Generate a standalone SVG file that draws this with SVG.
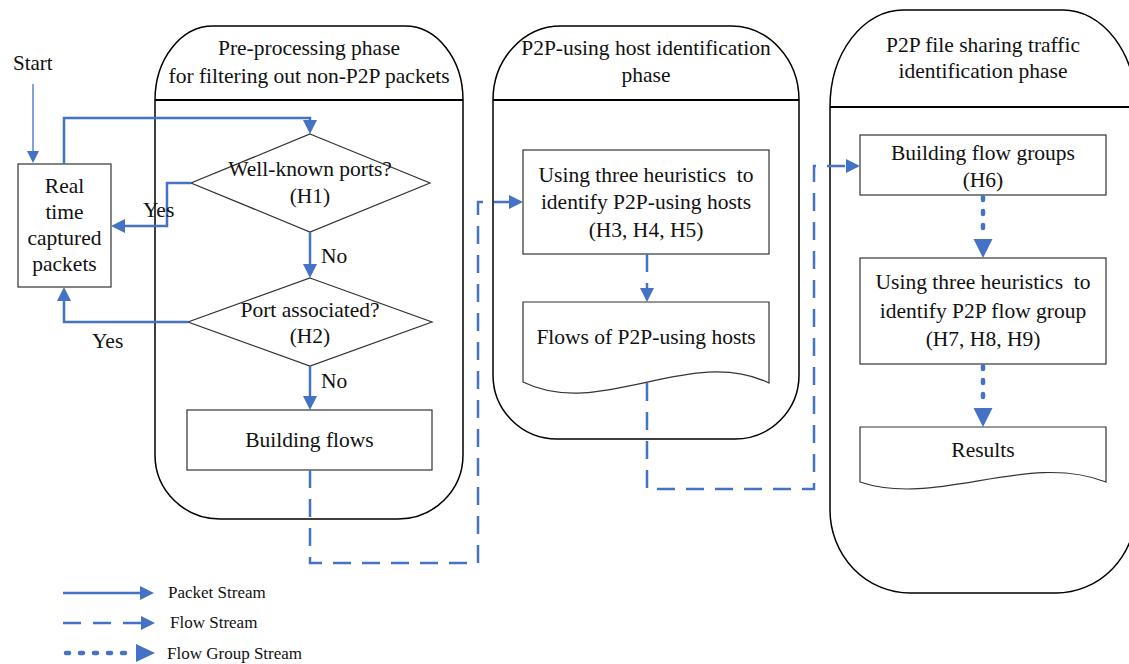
<svg xmlns="http://www.w3.org/2000/svg" width="1129" height="664" viewBox="0 0 1129 664">
<style>
text{font-family:"Liberation Serif","Times New Roman",serif;fill:#111;}
.t{font-size:21.5px;text-anchor:middle;}
.lbl{font-size:21.5px;}
.leg{font-size:17px;}
.cont{fill:none;stroke:#000;stroke-width:1.5;}
.hdr{stroke:#000;stroke-width:2;}
.box{fill:#fff;stroke:#333;stroke-width:1.2;}
.pk{fill:none;stroke:#4472C4;stroke-width:2.5;}
.fl{fill:none;stroke:#4472C4;stroke-width:2.5;stroke-dasharray:18,11;}
.fg{fill:none;stroke:#4472C4;stroke-width:4.5;stroke-dasharray:3,11;stroke-linecap:round;}
</style>
<defs>
<marker id="ah" markerUnits="userSpaceOnUse" markerWidth="15" markerHeight="14" refX="0" refY="7" orient="auto"><path d="M0,0 L14,7 L0,14 z" fill="#4472C4"/></marker>
<marker id="ahs" markerUnits="userSpaceOnUse" markerWidth="13" markerHeight="12" refX="0" refY="6" orient="auto"><path d="M0,0 L12,6 L0,12 z" fill="#4472C4"/></marker>
</defs>

<g id="phase1">
<path class="cont" d="M155,100 V455 A65,64 0 0 0 220,519 H398 A65,64 0 0 0 463,455 V100 A58,74 0 0 0 405,26 H213 A58,74 0 0 0 155,100 Z"/>
<line class="hdr" x1="155" y1="100" x2="463" y2="100"/>
<text class="t" x="309" y="55">Pre-processing phase</text>
<text class="t" x="309" y="83">for filtering out non-P2P packets</text>
</g>
<g id="phase2">
<path class="cont" d="M493,100 V375 A64,64 0 0 0 557,439 H735 A64,64 0 0 0 799,375 V100 A68,74 0 0 0 731,26 H561 A68,74 0 0 0 493,100 Z"/>
<line class="hdr" x1="493" y1="100" x2="799" y2="100"/>
<text class="t" x="646" y="55">P2P-using host identification</text>
<text class="t" x="646" y="82">phase</text>
</g>
<g id="phase3">
<path class="cont" d="M830,107 V510 A80,83 0 0 0 910,593 H1056 A80,83 0 0 0 1136,510 V107 A73,97 0 0 0 1063,10 H903 A73,97 0 0 0 830,107 Z"/>
<line class="hdr" x1="830" y1="107" x2="1136" y2="107"/>
<text class="t" x="983" y="52">P2P file sharing traffic</text>
<text class="t" x="983" y="78">identification phase</text>
</g>

<g id="start">
<text style="font-size:21px" x="13" y="70">Start</text>
</g>
<g id="capture">
<rect class="box" x="18" y="164" width="93" height="123"/>
<text class="t" x="64.5" y="193">Real</text>
<text class="t" x="64.5" y="219">time</text>
<text class="t" x="64.5" y="245">captured</text>
<text class="t" x="64.5" y="271">packets</text>
</g>
<g id="h1">
<path class="box" d="M310,134 L430,183 L310,232 L191,183 Z"/>
<text class="t" x="310" y="176">Well-known ports?</text>
<text class="t" x="310" y="203">(H1)</text>
</g>
<g id="h2">
<path class="box" d="M310,278 L432,322 L310,366 L188,322 Z"/>
<text class="t" x="310" y="317">Port associated?</text>
<text class="t" x="310" y="343">(H2)</text>
</g>
<g id="buildflows">
<rect class="box" x="187" y="410" width="245" height="60"/>
<text class="t" x="309.5" y="447">Building flows</text>
</g>
<g id="h345">
<rect class="box" x="523" y="150" width="246" height="104"/>
<text class="t" x="646" y="182">Using three heuristics&#160; to</text>
<text class="t" x="646" y="209">identify P2P-using hosts</text>
<text class="t" x="646" y="237">(H3, H4, H5)</text>
</g>
<g id="flowsdoc">
<path class="box" d="M523,302 H769 V383 C690,345 600,420 523,382 Z"/>
<text class="t" x="646" y="344">Flows of P2P-using hosts</text>
</g>
<g id="h6">
<rect class="box" x="860" y="135" width="246" height="60"/>
<text class="t" x="983" y="160">Building flow groups</text>
<text class="t" x="983" y="187">(H6)</text>
</g>
<g id="h789">
<rect class="box" x="860" y="258" width="246" height="106"/>
<text class="t" x="983" y="289">Using three heuristics&#160; to</text>
<text class="t" x="983" y="318">identify P2P flow group</text>
<text class="t" x="983" y="346">(H7, H8, H9)</text>
</g>
<g id="results">
<path class="box" d="M860,427 H1106 V482 C1027,451 937,508 860,482 Z"/>
<text class="t" x="983" y="457">Results</text>
</g>

<g id="connectors">
<path d="M33,84 V151" fill="none" stroke="#4472C4" stroke-width="1.3" marker-end="url(#ahs)"/>
<path class="pk" d="M64,164 V118 H310 V120" marker-end="url(#ah)"/>
<path class="pk" d="M191,183 H167 V226 H125" marker-end="url(#ah)"/>
<path class="pk" d="M310,232 V264" marker-end="url(#ah)"/>
<path class="pk" d="M188,322 H64 V301" marker-end="url(#ah)"/>
<path class="pk" d="M310,366 V396" marker-end="url(#ah)"/>
<path class="fl" d="M310,470 V563 H478 V202 H509" marker-end="url(#ah)"/>
<path class="fl" d="M647,254 V288" marker-end="url(#ah)"/>
<path class="fl" d="M647,383 V489 H814 V166 H846" marker-end="url(#ah)"/>
<path class="fg" d="M983,197 V239"/>
<path d="M973.5,239 L992.5,239 L983,258 z" fill="#4472C4"/>
<path class="fg" d="M983,366 V408"/>
<path d="M973.5,408 L992.5,408 L983,427 z" fill="#4472C4"/>
<text class="lbl" x="143" y="217">Yes</text>
<text class="lbl" x="321" y="263">No</text>
<text class="lbl" x="92" y="348">Yes</text>
<text class="lbl" x="321" y="388">No</text>
</g>

<g id="legend">
<path class="pk" d="M63,593 H140" marker-end="url(#ah)"/>
<text class="leg" x="168" y="598">Packet Stream</text>
<path class="fl" style="stroke-dasharray:18,12" d="M63,623 H141" marker-end="url(#ah)"/>
<text class="leg" x="170" y="628">Flow Stream</text>
<path class="fg" d="M66,653 H134"/>
<path d="M136,644 L155,653 L136,662 z" fill="#4472C4"/>
<text class="leg" x="167" y="659">Flow Group Stream</text>
</g>
</svg>
